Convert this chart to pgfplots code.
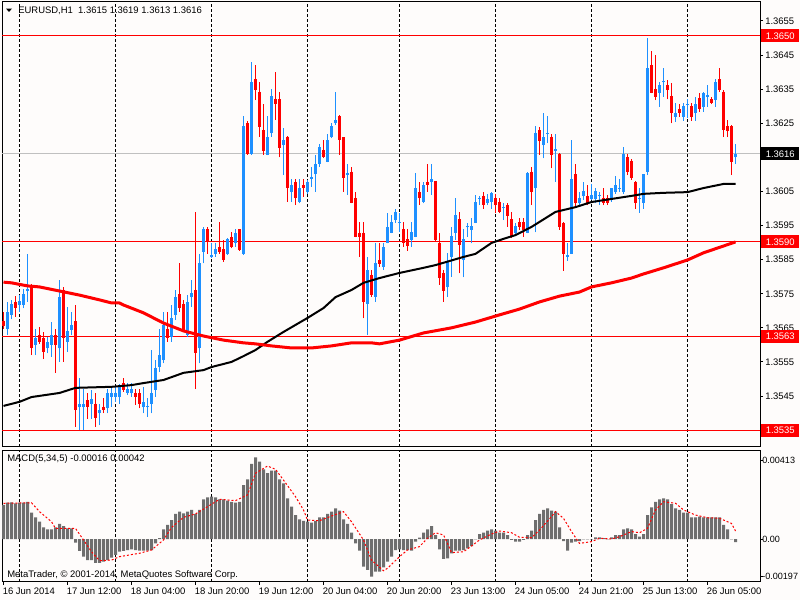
\documentclass[border=0pt]{standalone}
\usepackage{pgfplots}
\pgfplotsset{compat=1.18}
\usepackage{pgfplotstable}
\usepackage{fontspec}
\setmainfont{Liberation Sans}
\definecolor{mtblue}{RGB}{30,144,255}
\definecolor{mtred}{RGB}{255,0,0}
\definecolor{macdgray}{RGB}{110,110,110}
\definecolor{bidgray}{RGB}{192,192,192}
\definecolor{bg}{RGB}{254,252,251}
\newcommand\mt{\fontsize{7.1}{8.5}\selectfont}
\newcommand\mts{\fontsize{6.8}{8.2}\selectfont}

% up (blue) candles: bar index, open, high, low, close
\pgfplotstableread{
i o h l c
1 1.35648 1.35727 1.35629 1.35697
2 1.35688 1.35732 1.35675 1.35720
4 1.35717 1.35746 1.35697 1.35729
5 1.35717 1.35763 1.35707 1.35748
6 1.35759 1.35868 1.35727 1.35763
8 1.35600 1.35648 1.35570 1.35619
11 1.35590 1.35624 1.35575 1.35609
12 1.35600 1.35668 1.35565 1.35629
14 1.35590 1.35790 1.35551 1.35741
16 1.35609 1.35712 1.35580 1.35642
17 1.35644 1.35697 1.35629 1.35658
19 1.35417 1.35502 1.35350 1.35428
20 1.35417 1.35472 1.35350 1.35428
22 1.35428 1.35468 1.35384 1.35440
24 1.35399 1.35428 1.35365 1.35409
26 1.35414 1.35472 1.35399 1.35460
27 1.35448 1.35477 1.35419 1.35460
28 1.35448 1.35477 1.35433 1.35460
29 1.35448 1.35485 1.35428 1.35477
31 1.35460 1.35487 1.35453 1.35472
32 1.35458 1.35487 1.35448 1.35472
35 1.35417 1.35477 1.35399 1.35433
36 1.35417 1.35443 1.35389 1.35420
37 1.35428 1.35585 1.35399 1.35458
38 1.35468 1.35556 1.35448 1.35531
39 1.35536 1.35648 1.35521 1.35570
40 1.35556 1.35697 1.35546 1.35658
42 1.35624 1.35717 1.35609 1.35678
43 1.35688 1.35761 1.35673 1.35741
46 1.35629 1.35746 1.35624 1.35727
47 1.35739 1.35790 1.35712 1.35751
49 1.35590 1.35868 1.35546 1.35839
50 1.35873 1.35947 1.35839 1.35939
52 1.35859 1.35898 1.35854 1.35863
53 1.35868 1.35898 1.35859 1.35880
56 1.35866 1.35913 1.35864 1.35910
58 1.35898 1.35939 1.35888 1.35929
60 1.35867 1.36271 1.35864 1.36242
62 1.36160 1.36431 1.36157 1.36372
66 1.36157 1.36271 1.36156 1.36211
67 1.36220 1.36350 1.36211 1.36330
70 1.36186 1.36235 1.36098 1.36201
72 1.36049 1.36088 1.36020 1.36069
74 1.36020 1.36088 1.36015 1.36059
76 1.36049 1.36084 1.36044 1.36079
77 1.36087 1.36123 1.36064 1.36091
78 1.36101 1.36157 1.36049 1.36131
79 1.36131 1.36189 1.36123 1.36181
81 1.36137 1.36220 1.36135 1.36201
82 1.36209 1.36250 1.36206 1.36242
83 1.36250 1.36343 1.36245 1.36260
86 1.36099 1.36131 1.36040 1.36103
91 1.35720 1.35859 1.35629 1.35820
93 1.35741 1.35900 1.35727 1.35839
95 1.35829 1.35898 1.35820 1.35888
96 1.35900 1.35986 1.35898 1.35947
97 1.35929 1.35981 1.35927 1.35961
98 1.35966 1.36000 1.35958 1.35991
99 1.35957 1.35986 1.35932 1.35961
102 1.35908 1.35961 1.35888 1.35932
103 1.35917 1.36103 1.35915 1.36059
105 1.36020 1.36079 1.36015 1.36069
107 1.36079 1.36131 1.36040 1.36088
111 1.35769 1.35870 1.35741 1.35844
112 1.35859 1.35947 1.35800 1.35919
113 1.35929 1.36030 1.35908 1.35981
115 1.35849 1.35939 1.35798 1.35910
116 1.35945 1.35958 1.35917 1.35949
117 1.35937 1.35971 1.35898 1.35949
118 1.35958 1.36040 1.35957 1.36020
119 1.36028 1.36037 1.36010 1.36032
121 1.36017 1.36042 1.36010 1.36029
122 1.36020 1.36049 1.36000 1.36046
125 1.36001 1.36017 1.35966 1.36005
128 1.35929 1.35958 1.35919 1.35949
131 1.35929 1.36108 1.35927 1.36103
133 1.36059 1.36242 1.35930 1.36220
135 1.36186 1.36279 1.36147 1.36211
136 1.36218 1.36271 1.36191 1.36222
138 1.36170 1.36220 1.36079 1.36174
141 1.35859 1.35898 1.35847 1.35863
142 1.35868 1.36201 1.35866 1.36088
144 1.36015 1.36049 1.36005 1.36030
145 1.36037 1.36079 1.36025 1.36051
147 1.36027 1.36072 1.36025 1.36040
148 1.36027 1.36059 1.36015 1.36051
149 1.36036 1.36049 1.36010 1.36040
152 1.36027 1.36059 1.36020 1.36059
153 1.36049 1.36095 1.36044 1.36069
154 1.36057 1.36088 1.36049 1.36061
155 1.36049 1.36181 1.36044 1.36160
159 1.36027 1.36059 1.35988 1.36032
160 1.36017 1.36101 1.36000 1.36101
161 1.36108 1.36499 1.36098 1.36411
164 1.36340 1.36372 1.36299 1.36362
165 1.36370 1.36411 1.36328 1.36374
168 1.36269 1.36308 1.36255 1.36279
170 1.36269 1.36308 1.36257 1.36301
171 1.36305 1.36320 1.36264 1.36308
173 1.36279 1.36328 1.36258 1.36308
175 1.36299 1.36343 1.36284 1.36340
176 1.36328 1.36362 1.36299 1.36332
178 1.36318 1.36379 1.36299 1.36372
183 1.36150 1.36190 1.36130 1.36160
}\upbars

% down (red) candles
\pgfplotstableread{
i o h l c
0 1.35671 1.35697 1.35648 1.35655
3 1.35727 1.35743 1.35683 1.35707
7 1.35776 1.35778 1.35570 1.35590
9 1.35629 1.35653 1.35604 1.35609
10 1.35619 1.35639 1.35558 1.35580
13 1.35629 1.35648 1.35518 1.35600
15 1.35761 1.35769 1.35551 1.35619
18 1.35670 1.35717 1.35360 1.35409
21 1.35438 1.35460 1.35384 1.35417
23 1.35428 1.35458 1.35360 1.35387
25 1.35419 1.35443 1.35399 1.35409
30 1.35487 1.35502 1.35463 1.35468
33 1.35458 1.35472 1.35424 1.35448
34 1.35458 1.35472 1.35414 1.35428
41 1.35648 1.35697 1.35609 1.35619
44 1.35749 1.35839 1.35697 1.35707
45 1.35720 1.35732 1.35639 1.35644
48 1.35761 1.35991 1.35470 1.35577
51 1.35939 1.35947 1.35868 1.35903
54 1.35888 1.35961 1.35868 1.35873
55 1.35880 1.35908 1.35844 1.35849
57 1.35917 1.35932 1.35883 1.35888
59 1.35939 1.35940 1.35876 1.35878
61 1.36250 1.36258 1.36157 1.36160
63 1.36379 1.36421 1.36318 1.36348
64 1.36343 1.36372 1.36211 1.36240
65 1.36230 1.36308 1.36157 1.36170
68 1.36320 1.36401 1.36260 1.36307
69 1.36320 1.36343 1.36150 1.36178
71 1.36211 1.36212 1.36020 1.36059
73 1.36079 1.36088 1.36010 1.36030
75 1.36069 1.36088 1.36035 1.36059
80 1.36172 1.36201 1.36147 1.36150
84 1.36271 1.36274 1.36157 1.36201
85 1.36209 1.36211 1.36049 1.36088
87 1.36108 1.36123 1.36015 1.36017
88 1.36030 1.36049 1.35915 1.35917
89 1.35929 1.35961 1.35859 1.35917
90 1.35929 1.35961 1.35678 1.35727
92 1.35805 1.35820 1.35741 1.35746
94 1.35849 1.35900 1.35829 1.35837
100 1.35939 1.35961 1.35888 1.35898
101 1.35910 1.35939 1.35876 1.35890
104 1.36049 1.36079 1.36010 1.36030
106 1.36079 1.36131 1.36049 1.36069
108 1.36081 1.36082 1.35906 1.35908
109 1.35900 1.35929 1.35776 1.35795
110 1.35810 1.35820 1.35727 1.35759
114 1.35968 1.35991 1.35810 1.35893
120 1.36037 1.36049 1.36000 1.36010
123 1.36030 1.36042 1.35988 1.36010
124 1.36020 1.36030 1.35986 1.35990
126 1.36010 1.36015 1.35947 1.35978
127 1.35968 1.35991 1.35913 1.35917
129 1.35961 1.35971 1.35937 1.35947
130 1.35961 1.35971 1.35917 1.35937
132 1.36108 1.36123 1.36010 1.36049
134 1.36230 1.36240 1.36157 1.36199
137 1.36211 1.36220 1.36118 1.36157
139 1.36160 1.36162 1.35937 1.35947
140 1.35958 1.35961 1.35818 1.35866
143 1.36101 1.36131 1.36007 1.36015
146 1.36037 1.36069 1.36010 1.36015
150 1.36030 1.36059 1.36010 1.36017
151 1.36030 1.36040 1.36010 1.36017
156 1.36150 1.36160 1.36098 1.36108
157 1.36140 1.36144 1.36084 1.36088
158 1.36079 1.36080 1.36000 1.36017
162 1.36421 1.36463 1.36338 1.36340
163 1.36350 1.36450 1.36318 1.36328
166 1.36362 1.36377 1.36320 1.36348
167 1.36330 1.36367 1.36250 1.36279
169 1.36291 1.36308 1.36269 1.36279
172 1.36301 1.36308 1.36257 1.36269
174 1.36323 1.36340 1.36284 1.36291
177 1.36320 1.36328 1.36306 1.36308
179 1.36379 1.36411 1.36343 1.36348
180 1.36343 1.36348 1.36209 1.36230
181 1.36242 1.36260 1.36209 1.36228
182 1.36242 1.36245 1.36098 1.36137
}\downbars

% black moving average
\pgfplotstableread{
i v
0 1.35421
4 1.35433
7 1.35447
14 1.35459
18 1.35474
27 1.35477
32 1.35482
35 1.35488
40 1.35497
45 1.35518
50 1.35526
52 1.35535
57 1.35550
60 1.35567
63 1.35585
66 1.35609
70 1.35638
76 1.35679
80 1.35708
83 1.35740
87 1.35761
90 1.35782
94 1.35796
99 1.35811
105 1.35826
108 1.35834
115 1.35858
118 1.35867
122 1.35899
125 1.35911
128 1.35922
132 1.35946
138 1.35990
143 1.36004
147 1.36019
152 1.36028
157 1.36037
160 1.36043
165 1.36046
171 1.36048
175 1.36060
180 1.36072
183 1.36072
}\mablack

% red moving average
\pgfplotstableread{
i v
0 1.35784
2 1.35782
6 1.35773
9 1.35770
14 1.35758
19 1.35746
24 1.35732
27 1.35723
29 1.35723
30 1.35717
35 1.35694
40 1.35664
45 1.35641
50 1.35626
55 1.35614
60 1.35606
63 1.35603
67 1.35597
72 1.35591
77 1.35591
82 1.35597
87 1.35606
92 1.35606
94 1.35603
99 1.35614
105 1.35635
112 1.35650
118 1.35667
124 1.35688
129 1.35705
134 1.35726
139 1.35743
144 1.35755
147 1.35770
152 1.35782
157 1.35796
160 1.35808
165 1.35826
171 1.35849
175 1.35870
180 1.35890
183 1.35902
}\mared

% MACD histogram
\pgfplotstableread{
i v
0 0.00179
1 0.00191
2 0.00193
3 0.00188
4 0.00191
5 0.00191
6 0.00195
7 0.00139
8 0.00114
9 0.00091
10 0.00061
11 0.00051
12 0.00051
13 0.00061
14 0.00079
15 0.00068
16 0.00056
17 0.00056
18 -0.00019
19 -0.00063
20 -0.00093
21 -0.00111
22 -0.00111
23 -0.00125
24 -0.00125
25 -0.00119
26 -0.00111
27 -0.00098
28 -0.00084
29 -0.00067
30 -0.00063
31 -0.00058
32 -0.00054
33 -0.00058
34 -0.00061
35 -0.00061
36 -0.00061
37 -0.00058
38 -0.00023
39 0.00004
40 0.00051
41 0.00074
42 0.00100
43 0.00132
44 0.00144
45 0.00135
46 0.00144
47 0.00153
48 0.00132
49 0.00153
50 0.00209
51 0.00219
52 0.00223
53 0.00219
54 0.00209
55 0.00209
56 0.00202
57 0.00196
58 0.00191
59 0.00196
60 0.00284
61 0.00314
62 0.00395
63 0.00430
64 0.00407
65 0.00367
66 0.00347
67 0.00360
68 0.00360
69 0.00314
70 0.00293
71 0.00214
72 0.00170
73 0.00126
74 0.00103
75 0.00095
76 0.00091
77 0.00086
78 0.00096
79 0.00114
80 0.00114
81 0.00132
82 0.00144
83 0.00161
84 0.00149
85 0.00103
86 0.00079
87 0.00033
88 -0.00023
89 -0.00061
90 -0.00146
91 -0.00163
92 -0.00198
93 -0.00172
94 -0.00172
95 -0.00149
96 -0.00119
97 -0.00093
98 -0.00058
99 -0.00054
100 -0.00058
101 -0.00058
102 -0.00061
103 -0.00014
104 0.00007
105 0.00033
106 0.00051
107 0.00068
108 0.00021
109 -0.00054
110 -0.00105
111 -0.00102
112 -0.00075
113 -0.00061
114 -0.00061
115 -0.00058
116 -0.00049
117 -0.00037
118 -0.00002
119 0.00026
120 0.00033
121 0.00044
122 0.00051
123 0.00044
124 0.00033
125 0.00033
126 0.00021
127 -0.00005
128 -0.00014
129 -0.00014
130 -0.00005
131 0.00021
132 0.00044
133 0.00100
134 0.00132
135 0.00153
136 0.00161
137 0.00149
138 0.00144
139 0.00061
140 -0.00011
141 -0.00061
142 -0.00019
143 -0.00014
144 -0.00011
145 -0.00002
146 -0.00002
147 -0.00002
148 0.00009
149 0.00009
150 0.00004
151 -0.00002
152 0.00009
153 0.00021
154 0.00021
155 0.00051
156 0.00056
157 0.00051
158 0.00026
159 0.00012
160 0.00026
161 0.00126
162 0.00167
163 0.00196
164 0.00209
165 0.00214
166 0.00209
167 0.00184
168 0.00161
169 0.00153
170 0.00139
171 0.00139
172 0.00114
173 0.00114
174 0.00118
175 0.00114
176 0.00114
177 0.00114
178 0.00114
179 0.00114
180 0.00074
181 0.00051
182 -0.00002
183 -0.00016
}\macdhist

% MACD signal line
\pgfplotstableread{
i v
0 0.00188
7 0.00191
9 0.00144
12 0.00091
13 0.00056
18 0.00056
20 -0.00005
22 -0.00067
24 -0.00114
27 -0.00111
29 -0.00093
34 -0.00075
37 -0.00058
40 -0.00005
42 0.00061
45 0.00114
48 0.00132
51 0.00170
54 0.00209
58 0.00202
61 0.00232
63 0.00346
66 0.00384
68 0.00367
70 0.00310
73 0.00223
75 0.00153
76 0.00100
79 0.00096
82 0.00121
85 0.00144
87 0.00091
90 -0.00005
92 -0.00111
95 -0.00167
96 -0.00154
99 -0.00093
101 -0.00058
104 -0.00040
106 0.00004
108 0.00033
110 0.00021
111 -0.00023
112 -0.00072
115 -0.00067
117 -0.00037
119 -0.00005
122 0.00026
124 0.00042
127 0.00033
129 0.00009
132 0.00007
134 0.00047
137 0.00118
138 0.00144
140 0.00109
142 0.00039
144 -0.00023
147 -0.00014
149 0.00004
152 0.00000
154 0.00012
157 0.00039
159 0.00033
161 0.00056
163 0.00153
165 0.00196
168 0.00188
170 0.00153
173 0.00126
176 0.00112
179 0.00109
182 0.00082
183 0.00042
}\macdsig

\begin{document}
\begin{tikzpicture}
\fill[bg] (0,0) rectangle (600pt,450pt);

\begin{axis}[
  name=main, anchor=south west, at={(1.5pt,114.75pt)},
  scale only axis, width=568.5pt, height=333.75pt,
  xmin=-0.375, xmax=189.125, ymin=1.353005, ymax=1.366057,
  axis line style={black, line width=0.75pt},
  xtick={4,28,52,76,99,123,147,171}, xticklabels={},
  xmajorgrids,
  grid style={black, line width=0.75pt, dash pattern=on 2.25pt off 1.5pt},
  xtick style={draw=none},
  ytick={1.3545,1.3555,1.3565,1.3575,1.3585,1.3595,1.3605,1.3625,1.3635,1.3645,1.3655},
  ytick pos=right, yticklabel pos=right,
  ytick style={black, line width=0.75pt},
  tick align=outside, major tick length=2.25pt,
  /pgf/number format/assume math mode=true,
  yticklabel style={/pgf/number format/fixed, /pgf/number format/fixed zerofill,
     /pgf/number format/precision=4, font=\mt, anchor=west, inner sep=0pt, xshift=1.5pt},
  scaled y ticks=false,
]
\addplot[bidgray, line width=0.75pt] coordinates {(-0.375,1.36160) (189.125,1.36160)};
\addplot[mtred, line width=0.75pt] coordinates {(-0.375,1.36506) (189.125,1.36506)};
\addplot[mtred, line width=0.75pt] coordinates {(-0.375,1.35902) (189.125,1.35902)};
\addplot[mtred, line width=0.75pt] coordinates {(-0.375,1.35626) (189.125,1.35626)};
\addplot[mtred, line width=0.75pt] coordinates {(-0.375,1.35350) (189.125,1.35350)};
% wicks
\addplot[mtblue, line width=0.75pt, mark=none, quiver={u=0, v=\thisrow{h}-\thisrow{l}}] table[x=i, y=l] {\upbars};
\addplot[mtred, line width=0.75pt, mark=none, quiver={u=0, v=\thisrow{h}-\thisrow{l}}] table[x=i, y=l] {\downbars};
% bodies
\addplot[mtblue, line width=2.25pt, mark=none, quiver={u=0, v=\thisrow{c}-\thisrow{o}}] table[x=i, y=o] {\upbars};
\addplot[mtred, line width=2.25pt, mark=none, quiver={u=0, v=\thisrow{c}-\thisrow{o}}] table[x=i, y=o] {\downbars};
% moving averages
\addplot[black, line width=1.5pt, line join=round, mark=none] table[x=i, y=v] {\mablack};
\addplot[mtred, line width=2.25pt, line join=round, mark=none] table[x=i, y=v] {\mared};
\coordinate (L1) at (axis cs:189.125,1.36506);
\coordinate (L2) at (axis cs:189.125,1.35902);
\coordinate (L3) at (axis cs:189.125,1.35626);
\coordinate (L4) at (axis cs:189.125,1.35350);
\coordinate (LB) at (axis cs:189.125,1.36160);
\end{axis}

\begin{axis}[
  name=macd, anchor=south west, at={(1.5pt,13.5pt)},
  scale only axis, width=568.5pt, height=99pt,
  xmin=-0.375, xmax=189.125, ymin=-0.002263, ymax=0.004684,
  axis line style={black, line width=0.75pt},
  xtick={0,16,32,48,64,80,96,112,128,144,160,176},
  xticklabels={16 Jun 2014,17 Jun 12:00,18 Jun 04:00,18 Jun 20:00,19 Jun 12:00,20 Jun 04:00,20 Jun 20:00,23 Jun 13:00,24 Jun 05:00,24 Jun 21:00,25 Jun 13:00,26 Jun 05:00},
  xtick pos=left,
  xticklabel style={font=\mt, anchor=north west, inner sep=0pt, xshift=-0.75pt, yshift=-2.25pt},
  extra x ticks={4,28,52,76,99,123,147,171}, extra x tick labels={},
  extra x tick style={grid=major, major tick length=0pt},
  grid style={black, line width=0.75pt, dash pattern=on 2.25pt off 1.5pt},
  ytick={-0.00197,0,0.00413}, yticklabels={-0.00197,0.00,0.00413},
  ytick pos=right, yticklabel pos=right,
  yticklabel style={font=\mts, anchor=west, inner sep=0pt, xshift=-0.75pt},
  tick style={black, line width=0.75pt},
  tick align=outside, major tick length=2.25pt,
  scaled y ticks=false,
]
\addplot[ybar, bar width=2.25pt, fill=macdgray, draw=none] table[x=i, y=v] {\macdhist};
\addplot[mtred, line width=0.75pt, dash pattern=on 1.5pt off 1.5pt, mark=none] table[x=i, y=v] {\macdsig};
\end{axis}

% header and labels
\fill[black] (4.5pt,443.6pt) -- (9pt,443.6pt) -- (6.75pt,441pt) -- cycle;
\node[anchor=west, inner sep=0pt, font=\mt] at (13.5pt,442pt) {EURUSD,H1\ \ 1.3615 1.3619 1.3613 1.3616};
\node[anchor=west, inner sep=0pt, font=\mt] at (5.25pt,105.75pt) {MACD(5,34,5) -0.00016 0.00042};
\node[anchor=west, inner sep=0pt, font=\mt] at (5.25pt,18.75pt) {MetaTrader, \textcopyright{} 2001-2014, MetaQuotes Software Corp.};

% price labels on the right scale
\foreach \c/\t in {L1/1.3650,L2/1.3590,L3/1.3563,L4/1.3535}{
  \node[fill=mtred, text=white, font=\mt, anchor=west, inner sep=0pt,
        minimum width=28.5pt, minimum height=9.75pt] at ([xshift=0.75pt]\c) {\t};
}
\node[fill=black, text=white, font=\mt, anchor=west, inner sep=0pt,
      minimum width=28.5pt, minimum height=9.75pt] at ([xshift=0.75pt]LB) {1.3616};

\pgfresetboundingbox
\useasboundingbox (0,0) rectangle (600pt,450pt);
\end{tikzpicture}
\end{document}
